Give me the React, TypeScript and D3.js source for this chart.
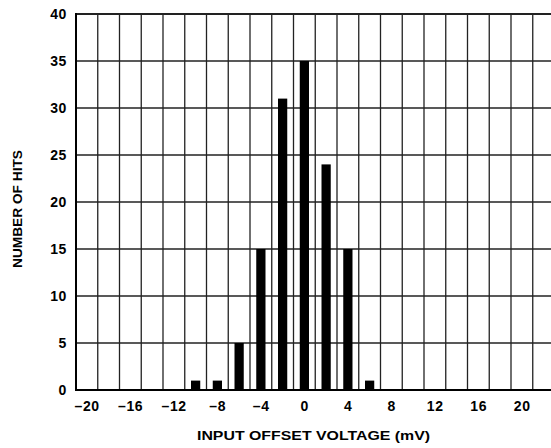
import React from 'react';
import * as d3 from 'd3';

const voltages = [-10, -8, -6, -4, -2, 0, 2, 4, 6];
const hits = [1, 1, 5, 15, 31, 35, 24, 15, 1];
const xTicks = [-20, -16, -12, -8, -4, 0, 4, 8, 12, 16, 20];
const yTicks = [0, 5, 10, 15, 20, 25, 30, 35, 40];
const xGrid = d3.range(-19, 22, 2);
const xTitle = 'INPUT OFFSET VOLTAGE (mV)';
const yTitle = 'NUMBER OF HITS';

export default function App() {
    const width = 551;
    const height = 448;
    const margin = { top: 14, left: 76, bottom: 58 };
    const font = '"Liberation Sans", Arial, Helvetica, sans-serif';

    const x = d3.scaleLinear().domain([-21, 23]).range([margin.left, margin.left + 44 * 10.875]);
    const y = d3.scaleLinear().domain([0, 40]).range([height - margin.bottom, margin.top]);
    const barW = x(0.85) - x(0);

    return (
        <svg width={width} height={height} style={{ position: 'absolute', left: 0, top: 0, background: '#fff' }}>
            {/* vertical grid */}
            {xGrid.map(v => (
                <line key={'gx' + v} x1={x(v)} x2={x(v)} y1={y(40)} y2={y(0)} stroke="#222" strokeWidth={1.3} />
            ))}
            {/* horizontal grid */}
            {yTicks.map(v => (
                <line key={'gy' + v} x1={x(-21)} x2={width} y1={y(v)} y2={y(v)} stroke="#222" strokeWidth={v === 0 || v === 40 ? 2 : 1.3} />
            ))}
            {/* bars */}
            {voltages.map((v, i) => (
                <rect key={'b' + v} x={x(v) - barW / 2} y={y(hits[i])} width={barW} height={y(0) - y(hits[i])} fill="#000" />
            ))}
            {/* axes */}
            <line x1={x(-21)} x2={x(-21)} y1={y(40) - 1} y2={y(0) + 1} stroke="#000" strokeWidth={2} />
            <line x1={x(-21)} x2={width} y1={y(0)} y2={y(0)} stroke="#000" strokeWidth={2} />

            {yTicks.map(v => (
                <text key={'ty' + v} x={67} y={y(v)} dy="0.36em" textAnchor="end" fontFamily={font} fontWeight="bold" fontSize={14} letterSpacing={0.6} fill="#000">{v}</text>
            ))}
            {xTicks.map(v => (
                <text key={'tx' + v} x={x(v) + 0.3} y={411} textAnchor="middle" fontFamily={font} fontWeight="bold" fontSize={14} letterSpacing={0.6} fill="#000">{v < 0 ? '\u2013' + Math.abs(v) : v}</text>
            ))}
            <text x={197} y={440} textLength={233} lengthAdjust="spacingAndGlyphs" fontFamily={font} fontWeight="bold" fontSize={13.5} fill="#000">{xTitle}</text>
            <text transform={`translate(22,${209}) rotate(-90)`} textAnchor="middle" fontFamily={font} fontWeight="bold" fontSize={13} textLength={118} lengthAdjust="spacingAndGlyphs" fill="#000">{yTitle}</text>
        </svg>
    );
}
